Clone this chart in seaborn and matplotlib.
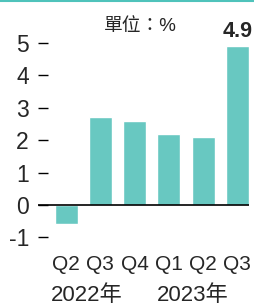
import matplotlib
matplotlib.use("Agg")
import matplotlib.pyplot as plt
import matplotlib.transforms as mtransforms
from matplotlib.lines import Line2D
import pandas as pd
import seaborn as sns

# データ
periods = ["2022Q2", "2022Q3", "2022Q4", "2023Q1", "2023Q2", "2023Q3"]
quarters = ["Q2", "Q3", "Q4", "Q1", "Q2", "Q3"]
growth = [-0.6, 2.7, 2.6, 2.2, 2.1, 4.9]
years = ["2022年", "2023年"]
year_pos = [0.6, 3.7]
yticks = [-1, 0, 1, 2, 3, 4, 5]
unit_text = "單位：%"

BAR_COLOR = "#68c8c1"
LINE_COLOR = "#4fc3bb"

sns.set_theme(style="white")
plt.rcParams["font.family"] = ["Liberation Sans", "Noto Sans CJK TC", "DejaVu Sans"]

fig = plt.figure(figsize=(2.55, 3.06), dpi=100)
ax = fig.add_axes([0.149, 0.198, 0.829, 0.672])

df = pd.DataFrame({"period": periods, "growth": growth})
sns.barplot(data=df, x="period", y="growth", color=BAR_COLOR,
            saturation=1, width=0.67, ax=ax)

ax.axhline(0, color="black", lw=1.2)
ax.set_xlim(-0.82, 5.35)
ax.set_ylim(-1.25, 5.1)

ax.set_yticks(yticks)
ax.set_yticklabels([str(v) for v in yticks])
ax.set_xticks(range(len(quarters)))
ax.set_xticklabels(quarters)
ax.tick_params(axis="y", direction="in", length=7.5, width=1, color="black",
               pad=6.5, labelsize=16.5, left=True)
ax.tick_params(axis="x", length=0, pad=7, labelsize=15)
ax.set_xlabel("")
ax.set_ylabel("")
for s in ax.spines.values():
    s.set_visible(False)

# 最新値ラベル
labels = [""] * (len(growth) - 1) + [f"{growth[-1]:.1f}"]
ax.bar_label(ax.containers[0], labels=labels, padding=3,
             fontsize=15.5, fontweight="bold")

# 年ラベル
trans = mtransforms.blended_transform_factory(ax.transData, fig.transFigure)
for y, p in zip(years, year_pos):
    ax.text(p, 0.035, y, transform=trans, ha="center", va="center", fontsize=16)

# 単位
fig.text(140 / 255, 1 - 27 / 306, unit_text, ha="center", va="center", fontsize=13.5)

# 上の枠線
fig.add_artist(Line2D([0, 1], [0.996, 0.996], transform=fig.transFigure,
                      color=LINE_COLOR, lw=1.5))

fig.savefig("out.png", dpi=100)
